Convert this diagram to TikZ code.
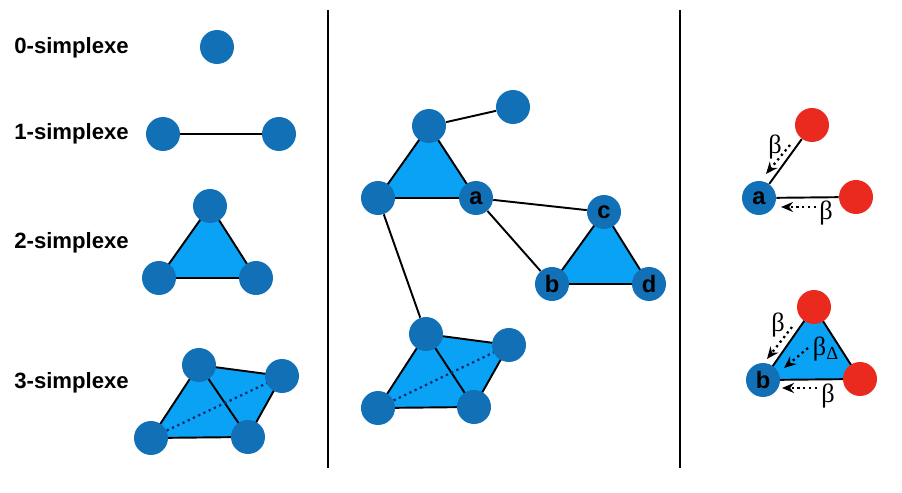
\documentclass[tikz,border=0pt]{standalone}
\usepackage{fontspec}
\setmainfont{Liberation Sans}
\newfontfamily\betafont{Liberation Serif}
\usetikzlibrary{arrows.meta, backgrounds}
\definecolor{vblue}{HTML}{1170B6}
\definecolor{faceblue}{HTML}{0AA2F5}
\definecolor{vred}{HTML}{EA2A1F}
\definecolor{dotblue}{HTML}{0C2B6E}
\tikzset{
  vtx/.style={circle, fill=vblue, minimum size=0.68cm, inner sep=0pt, font=\bfseries\fontsize{13.5}{13.5}\selectfont},
  rvtx/.style={vtx, fill=vred},
  edge/.style={line width=1.1pt, black},
  face/.style={fill=faceblue, draw=black, line width=1.1pt},
  hidden/.style={line width=1.3pt, dotblue, dotted},
  flow/.style={-{Stealth[length=2.4mm,width=2mm]}, line width=1.3pt, dotted},
  title/.style={font=\bfseries\fontsize{12.6}{12.6}\selectfont, anchor=west, inner sep=0pt},
  blabel/.style={font=\betafont\fontsize{15}{15}\selectfont}
}

\begin{document}
\begin{tikzpicture}[x=0.02cm, y=-0.02cm]
\useasboundingbox (0,0) rectangle (902,493);

% separators
\draw[line width=1.2pt] (328,10) -- (328,468);
\draw[line width=1.2pt] (680,10) -- (680,468);

% left column: the simplexes
\node[title] (t0) at (14,48) {0-simplexe};
\node[title] (t1) at (14,134) {1-simplexe};
\node[title] (t2) at (14,243) {2-simplexe};
\node[title] (t3) at (14,383) {3-simplexe};

\node[vtx] (s0) at (217,47) {};

\node[vtx] (s1a) at (163,134) {};
\node[vtx] (s1b) at (279,134) {};
\draw[edge] (s1a) -- (s1b);

\node[vtx] (s2t) at (210,206) {};
\node[vtx] (s2l) at (159,278) {};
\node[vtx] (s2r) at (256,278) {};
\begin{scope}[on background layer]
\draw[face] (s2t.center) -- (s2l.center) -- (s2r.center) -- cycle;
\end{scope}

\node[vtx] (s3t) at (199,365) {};
\node[vtx] (s3r) at (282,376) {};
\node[vtx] (s3l) at (151,438) {};
\node[vtx] (s3b) at (248,437) {};
\begin{scope}[on background layer]
\draw[face] (s3l.center) -- (s3t.center) -- (s3r.center) -- (s3b.center) -- cycle;
\draw[edge] (s3t.center) -- (s3b.center);
\draw[hidden] (s3l.center) -- (s3r.center);
\end{scope}

% middle column: a simplicial complex
\node[vtx] (m0) at (513,107) {};
\node[vtx] (mt) at (429,126) {};
\node[vtx] (ml) at (378,198) {};
\node[vtx] (a) at (476,198) {a};
\node[vtx] (c) at (604,212) {c};
\node[vtx] (b) at (552,284) {b};
\node[vtx] (d) at (649,284) {d};
\node[vtx] (kt) at (426,334) {};
\node[vtx] (kr) at (509,345) {};
\node[vtx] (kl) at (378,408) {};
\node[vtx] (kb) at (474,407) {};
\begin{scope}[on background layer]
\draw[face] (mt.center) -- (ml.center) -- (a.center) -- cycle;
\draw[face] (c.center) -- (b.center) -- (d.center) -- cycle;
\draw[face] (kl.center) -- (kt.center) -- (kr.center) -- (kb.center) -- cycle;
\draw[edge] (kt.center) -- (kb.center);
\draw[hidden] (kl.center) -- (kr.center);
\end{scope}
\draw[edge] (mt) -- (m0);
\draw[edge] (a) -- (c);
\draw[edge] (a) -- (b);
\draw[edge] (ml) -- (kt);

% right column: messages
\node[rvtx] (r1) at (812,125) {};
\node[vtx] (ra) at (759,198) {a};
\node[rvtx] (r2) at (856,197) {};
\draw[edge] (r1) -- (ra);
\draw[edge] (r2) -- (ra);
\coordinate (f1s) at (790,145);
\coordinate (f1e) at (766,174);
\coordinate (f2s) at (816,207);
\coordinate (f2e) at (781,207);
\draw[flow] (f1s) -- (f1e);
\draw[flow] (f2s) -- (f2e);
\node[blabel] (b1) at (775,147) {β};
\node[blabel] (b2) at (826,213) {β};

\node[rvtx] (r3) at (814,307) {};
\node[vtx] (rb) at (763,380) {b};
\node[rvtx] (r4) at (860,379) {};
\begin{scope}[on background layer]
\draw[face] (r3.center) -- (rb.center) -- (r4.center) -- cycle;
\end{scope}
\coordinate (f3s) at (792,327);
\coordinate (f3e) at (767,359);
\coordinate (f4s) at (808,348);
\coordinate (f4e) at (784,368);
\coordinate (f5s) at (817,388);
\coordinate (f5e) at (782,388);
\draw[flow] (f3s) -- (f3e);
\draw[flow] (f4s) -- (f4e);
\draw[flow] (f5s) -- (f5e);
\node[blabel] (b3) at (778,325) {β};
\node[blabel] (b4) at (826,349) {β\textsubscript{Δ}};
\node[blabel] (b5) at (828,396) {β};
\end{tikzpicture}
\end{document}
